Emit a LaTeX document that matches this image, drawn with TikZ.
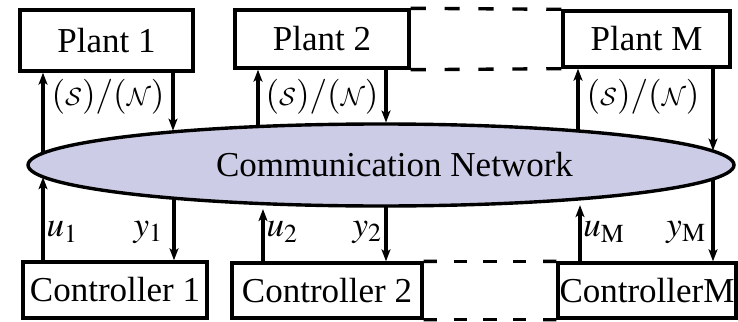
\documentclass[tikz,border=0pt]{standalone}
\usepackage{mathptmx}
\usepackage{fontspec}
\setmainfont{Liberation Serif}
\DeclareMathAlphabet{\mathcal}{OMS}{cmsy}{m}{n}
\usetikzlibrary{arrows.meta,shapes.geometric,calc}
\definecolor{netfill}{RGB}{204,204,230}

% point on the border of the network ellipse above (-1) or below (+1) a given x
\newcommand\netpt[3]{%
  \pgfmathsetmacro\netdx{(#2-381)/353}%
  \pgfmathsetmacro\netyy{165+(#3)*42.5*sqrt(1-(\netdx)*(\netdx))}%
  \coordinate (#1) at (#2,\netyy);}

% five evenly spaced dashes joining two anchors
\newcommand\dashlink[2]{%
  \foreach \i in {0,...,4}{%
    \draw[lw] ($(#1)!{\i*0.225}!(#2)$) -- ($(#1)!{\i*0.225+0.1}!(#2)$);}}

\begin{document}
\begin{tikzpicture}[x=1pt,y=-1pt,
    font=\fontsize{35}{40}\selectfont,
    lw/.style={line width=3.4pt},
    blk/.style={draw, lw, inner sep=0pt, fill=white},
    sig/.style={lw, -{Stealth[length=12pt,width=9pt,inset=3pt]}},
    lbl/.style={inner sep=0pt}]
\useasboundingbox (0,0) rectangle (738,321);

% communication network
\node[ellipse, draw, lw, fill=netfill, inner sep=0pt,
      minimum width=706pt, minimum height=82pt] (net) at (381,165) {};
\node[lbl] (nettext) at (394.5,165) {Communication Network};

% plants
\node[blk, minimum width=173pt, minimum height=61pt] (p1) at (106.5,40.5) {Plant 1};
\node[blk, minimum width=174pt, minimum height=58pt] (p2) at (322,39) {Plant 2};
\node[blk, minimum width=167pt, minimum height=56pt] (pm) at (646.5,39) {Plant M};

% controllers
\node[blk, minimum width=184pt, minimum height=56pt] (c1) at (115,290) {Controller 1};
\node[blk, minimum width=190pt, minimum height=55pt] (c2) at (327,290.5) {Controller 2};
\node[blk, minimum width=178pt, minimum height=55pt] (cm) at (647,290.5) {ControllerM};

% omitted plants and controllers
\dashlink{p2.north east}{pm.north west}
\dashlink{p2.south east}{pm.south west}
\dashlink{c2.north east}{cm.north west}
\dashlink{c2.south east}{cm.south west}

% border points of the network
\netpt{a1}{43}{-1}  \netpt{b1}{173}{-1}
\netpt{a2}{258}{-1} \netpt{b2}{386}{-1}
\netpt{am}{578}{-1} \netpt{bm}{713}{-1}
\netpt{u1}{43}{1}   \netpt{y1}{174}{1}
\netpt{u2}{263}{1}  \netpt{y2}{386}{1}
\netpt{um}{580}{1}  \netpt{ym}{713}{1}

% network <-> plants
\draw[sig] (a1) -- (a1 |- p1.south);
\draw[sig] (p1.south -| b1) -- (b1);
\draw[sig] (a2) -- (a2 |- p2.south);
\draw[sig] (p2.south -| b2) -- (b2);
\draw[sig] (am) -- (am |- pm.south);
\draw[sig] (pm.south -| bm) -- (bm);

% controllers <-> network
\draw[sig] (c1.north -| u1) -- (u1);
\draw[sig] (y1) -- (y1 |- c1.north);
\draw[sig] (c2.north -| u2) -- ([yshift=-4pt]u2);
\draw[sig] (y2) -- (y2 |- c2.north);
\draw[sig] (cm.north -| um) -- ([yshift=-5pt]um);
\draw[sig] (ym) -- (ym |- cm.north);

% labels
\node[lbl] (l1) at (108,97) {$(\mathcal{S})/(\mathcal{N})$};
\node[lbl] (l2) at (322,97) {$(\mathcal{S})/(\mathcal{N})$};
\node[lbl] (lm) at (643,97) {$(\mathcal{S})/(\mathcal{N})$};
\node[lbl] (lu1) at (62,232) {$u_1$};
\node[lbl] (ly1) at (148,232) {$y_1$};
\node[lbl] (lu2) at (282,232) {$u_2$};
\node[lbl] (ly2) at (367,232) {$y_2$};
\node[lbl] (lum) at (604,232) {$u_{\mathrm{M}}$};
\node[lbl] (lym) at (686,232) {$y_{\mathrm{M}}$};
\end{tikzpicture}
\end{document}
